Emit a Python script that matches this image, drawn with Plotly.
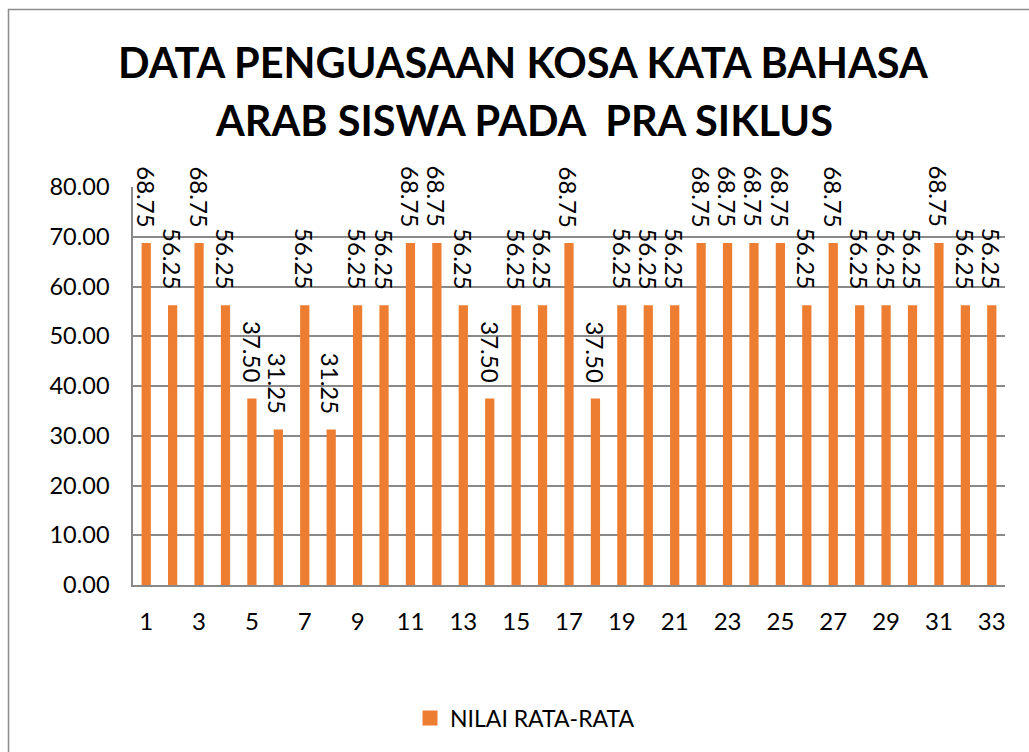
import plotly.graph_objects as go

students = list(range(1, 34))
nilai = [68.75, 56.25, 68.75, 56.25, 37.50, 31.25, 56.25, 31.25, 56.25, 56.25,
         68.75, 68.75, 56.25, 37.50, 56.25, 56.25, 68.75, 37.50, 56.25, 56.25,
         56.25, 68.75, 68.75, 68.75, 68.75, 56.25, 68.75, 56.25, 56.25, 56.25,
         68.75, 56.25, 56.25]
series_name = "NILAI RATA-RATA"
title_lines = ["DATA PENGUASAAN KOSA KATA BAHASA", "ARAB SISWA PADA  PRA SIKLUS"]
x_ticks = list(range(1, 34, 2))
y_ticks = [0, 10, 20, 30, 40, 50, 60, 70, 80]

FONT = "Lato"
BAR_COLOR = "#ED7D31"
L, R, T, B = 133, 24, 187, 167
PW, PH = 1029 - L - R, 752 - T - B

def px_x(px):
    return (px - L) / PW

def px_y(py):
    return (752 - B - py) / PH

fig = go.Figure()
fig.add_trace(go.Bar(x=students, y=nilai, name=series_name, showlegend=False,
                     marker=dict(color=BAR_COLOR, line=dict(width=0))))
# legend entry with square swatch
fig.add_trace(go.Scatter(x=[None], y=[None], mode="markers", name=series_name,
                         marker=dict(symbol="square", size=15, color=BAR_COLOR)))

for s, v in zip(students, nilai):
    fig.add_annotation(x=s, y=v, text=f"{v:.2f}", textangle=90, showarrow=False,
                       xanchor="center", yanchor="bottom", yshift=14,
                       font=dict(family=FONT, size=24, color="#000000"))

for line, py in zip(title_lines, [62, 120]):
    fig.add_annotation(xref="paper", yref="paper", x=px_x(523.5), y=px_y(py),
                       text=f"<b>{line}</b>", showarrow=False,
                       xanchor="center", yanchor="middle",
                       font=dict(family=FONT, size=41.5, color="#000000"))

# outer chart border
fig.add_shape(type="rect", xref="paper", yref="paper",
              x0=px_x(8.5), x1=px_x(1060), y0=px_y(780), y1=px_y(9.5),
              line=dict(color="#8C8C8C", width=1.5), fillcolor="rgba(0,0,0,0)",
              layer="below")

fig.update_layout(
    width=1029, height=752,
    margin=dict(l=L, r=R, t=T, b=B, autoexpand=False),
    paper_bgcolor="white", plot_bgcolor="white",
    bargap=0.65,
    showlegend=True,
    legend=dict(orientation="h", x=px_x(525), xanchor="center", y=px_y(718), yanchor="middle",
                font=dict(family=FONT, size=23, color="#000000"),
                itemwidth=30, tracegroupgap=0),
    font=dict(family=FONT, color="#000000"),
)
fig.update_xaxes(range=[0.5, 33.5], tickmode="array", tickvals=x_ticks,
                 ticktext=[str(t) for t in x_ticks],
                 showgrid=False, showline=True, linecolor="#898989", linewidth=1.5,
                 ticks="", ticklabelstandoff=14,
                 tickfont=dict(family=FONT, size=24, color="#000000"))
fig.update_yaxes(range=[0, 80], tickmode="array", tickvals=y_ticks,
                 ticktext=[f"{t:.2f}" for t in y_ticks],
                 showgrid=True, gridcolor="#898989", gridwidth=1.5,
                 showline=True, linecolor="#898989", linewidth=1.5,
                 zeroline=False, ticks="", ticklabelstandoff=17,
                 tickfont=dict(family=FONT, size=23.5, color="#000000"))

fig.write_html("out.html", config={"displayModeBar": False},
               post_script="document.body.style.margin='0';")
